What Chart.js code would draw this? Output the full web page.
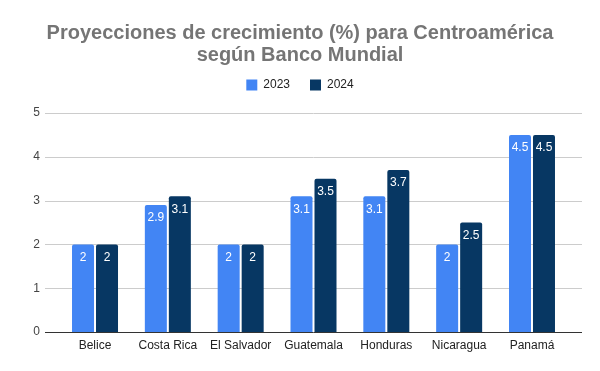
<!DOCTYPE html>
<html>
<head>
<meta charset="utf-8">
<script src="https://cdn.jsdelivr.net/npm/chart.js@4/dist/chart.umd.min.js"></script>
<style>
html,body{margin:0;padding:0;background:#fff;}
#wrap{width:600px;height:371px;position:relative;}
</style>
</head>
<body>
<div id="wrap"><canvas id="c" width="600" height="371"></canvas></div>
<script>
const categories = ["Belice", "Costa Rica", "El Salvador", "Guatemala", "Honduras", "Nicaragua", "Panamá"];
const values2023 = [2, 2.9, 2, 3.1, 3.1, 2, 4.5];
const values2024 = [2, 3.1, 2, 3.5, 3.7, 2.5, 4.5];
const seriesNames = ["2023", "2024"];
const yTicks = [0, 1, 2, 3, 4, 5];
const titleLines = ["Proyecciones de crecimiento (%) para Centroamérica", "según Banco Mundial"];

const FONT = "'Liberation Sans', Arial, sans-serif";
const EXT = 13.6;

const gridPlugin = {
  id: 'gridExt',
  beforeDatasetsDraw(chart) {
    const {ctx, chartArea} = chart;
    const y = chart.scales.y;
    ctx.save();
    ctx.strokeStyle = '#cccccc';
    ctx.lineWidth = 1;
    yTicks.forEach(v => {
      if (v === 0) return;
      const py = Math.round(y.getPixelForValue(v)) + 0.5;
      ctx.beginPath();
      ctx.moveTo(chartArea.left - EXT, py);
      ctx.lineTo(chartArea.right + EXT, py);
      ctx.stroke();
    });
    ctx.restore();
  },
  afterDatasetsDraw(chart) {
    const {ctx, chartArea} = chart;
    const y = chart.scales.y;
    ctx.save();
    ctx.strokeStyle = '#333333';
    ctx.lineWidth = 1;
    const py = Math.round(y.getPixelForValue(0)) + 0.5;
    ctx.beginPath();
    ctx.moveTo(chartArea.left - EXT, py);
    ctx.lineTo(chartArea.right + EXT, py);
    ctx.stroke();
    ctx.fillStyle = '#ffffff';
    ctx.font = "12px " + FONT;
    ctx.textAlign = 'center';
    ctx.textBaseline = 'middle';
    chart.data.datasets.forEach((ds, i) => {
      const meta = chart.getDatasetMeta(i);
      meta.data.forEach((el, j) => {
        ctx.fillText(String(ds.data[j]), el.x, el.y + 13);
      });
    });
    ctx.restore();
  }
};

new Chart(document.getElementById('c'), {
  type: 'bar',
  data: {
    labels: categories,
    datasets: [
      {label: seriesNames[0], data: values2023, backgroundColor: '#4285f4', borderRadius: {topLeft: 2, topRight: 2}, borderSkipped: 'bottom'},
      {label: seriesNames[1], data: values2024, backgroundColor: '#073763', borderRadius: {topLeft: 2, topRight: 2}, borderSkipped: 'bottom'}
    ]
  },
  options: {
    responsive: false,
    animation: false,
    events: [],
    layout: {padding: 0},
    datasets: {bar: {categoryPercentage: 0.659, barPercentage: 0.917}},
    plugins: {
      title: {
        display: true,
        text: titleLines,
        color: '#757575',
        font: {family: FONT, size: 20, weight: 'bold', lineHeight: 1.1},
        padding: {top: 22, bottom: -7}
      },
      legend: {
        display: true,
        position: 'top',
        labels: {
          color: '#222222',
          font: {family: FONT, size: 12},
          boxWidth: 11,
          boxHeight: 11,
          padding: 20
        }
      },
      tooltip: {enabled: false}
    },
    scales: {
      x: {
        grid: {display: false, drawTicks: false},
        border: {display: false},
        ticks: {color: '#222222', font: {family: FONT, size: 12}, padding: 6, maxRotation: 0, autoSkip: false},
        afterFit(s) { s.height = 39; }
      },
      xTop: {
        type: 'category',
        position: 'top',
        display: true,
        grid: {display: false, drawTicks: false},
        border: {display: false},
        ticks: {display: false},
        afterFit(s) { s.height = 12; }
      },
      y: {
        min: 0, max: 5,
        grid: {display: false, drawTicks: false},
        border: {display: false},
        ticks: {stepSize: 1, color: '#444444', font: {family: FONT, size: 12}, padding: 18.6},
        afterFit(s) { s.width = 58.6; }
      },
      yRight: {
        type: 'linear',
        position: 'right',
        display: true,
        grid: {display: false, drawTicks: false},
        border: {display: false},
        ticks: {display: false},
        afterFit(s) { s.width = 31.6; }
      }
    }
  },
  plugins: [gridPlugin]
});
</script>
</body>
</html>
